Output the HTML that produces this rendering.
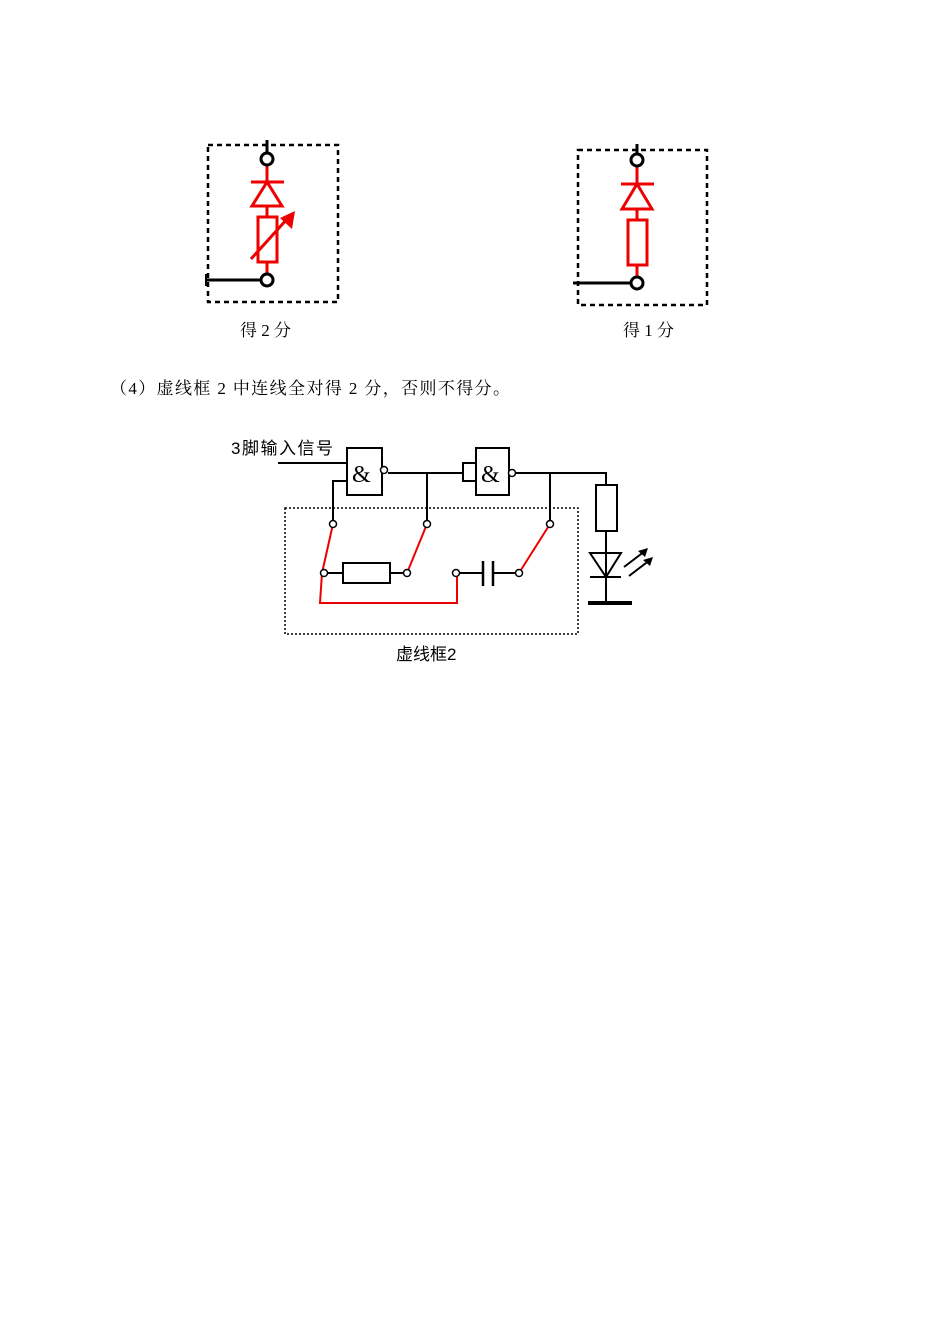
<!DOCTYPE html>
<html><head><meta charset="utf-8"><style>
html,body{margin:0;padding:0;background:#fff;}
svg{display:block;}
text{font-family:"Liberation Serif","Noto Serif CJK SC",serif;fill:#000;}
.s{font-family:"Liberation Sans","Noto Sans CJK SC",sans-serif;}
</style></head><body>
<svg width="950" height="1343" viewBox="0 0 950 1343" xmlns="http://www.w3.org/2000/svg">
<!-- left fig -->
<rect x="208" y="145" width="130" height="157" fill="none" stroke="#000" stroke-width="2.5" stroke-dasharray="5,4"/>
<line x1="267" y1="140" x2="267" y2="153" stroke="#000" stroke-width="3"/>
<line x1="267" y1="165" x2="267" y2="274" stroke="#e00" stroke-width="3"/>
<line x1="251" y1="182" x2="284" y2="182" stroke="#e00" stroke-width="3"/>
<polygon points="267,182 252,206 282,206" fill="#fff" stroke="#e00" stroke-width="3"/>
<rect x="258" y="217" width="19" height="45" fill="#fff" stroke="#e00" stroke-width="3"/>
<line x1="251" y1="259" x2="288" y2="218" stroke="#e00" stroke-width="3"/>
<polygon points="295,211 280,218 292,229" fill="#e00"/>
<circle cx="267" cy="159" r="6" fill="#fff" stroke="#000" stroke-width="3"/>
<line x1="205" y1="280" x2="261" y2="280" stroke="#000" stroke-width="3"/>
<line x1="206" y1="274" x2="206" y2="286" stroke="#000" stroke-width="2"/>
<circle cx="267" cy="280" r="6" fill="#fff" stroke="#000" stroke-width="3"/>
<!-- right fig -->
<rect x="578" y="150" width="129" height="155" fill="none" stroke="#000" stroke-width="2.5" stroke-dasharray="5,4"/>
<line x1="637" y1="144" x2="637" y2="154" stroke="#000" stroke-width="3"/>
<line x1="637" y1="166" x2="637" y2="277" stroke="#e00" stroke-width="3"/>
<line x1="621" y1="184" x2="654" y2="184" stroke="#e00" stroke-width="3"/>
<polygon points="637,184 622,209 652,209" fill="#fff" stroke="#e00" stroke-width="3"/>
<rect x="628" y="220" width="19" height="45" fill="#fff" stroke="#e00" stroke-width="3"/>
<circle cx="637" cy="160" r="6" fill="#fff" stroke="#000" stroke-width="3"/>
<line x1="573" y1="283" x2="631" y2="283" stroke="#000" stroke-width="3"/>
<circle cx="637" cy="283" r="6" fill="#fff" stroke="#000" stroke-width="3"/>
<text x="240" y="336" font-size="17">得 2 分</text>
<text x="623" y="336" font-size="17">得 1 分</text>
<text x="110" y="394" font-size="17" textLength="400" lengthAdjust="spacing">（4）虚线框 2 中连线全对得 2 分，否则不得分。</text>
<!-- circuit -->
<text class="s" x="231" y="454" font-size="17" textLength="102" lengthAdjust="spacing">3脚输入信号</text>
<g stroke="#000" stroke-width="2" fill="none">
<line x1="278" y1="463" x2="347" y2="463"/>
<polyline points="347,481 333,481 333,520"/>
<rect x="347" y="448" width="35" height="47" fill="#fff"/>
<line x1="388" y1="473" x2="463" y2="473"/>
<line x1="427" y1="473" x2="427" y2="520"/>
<rect x="463" y="463" width="13" height="18"/>
<rect x="476" y="448" width="33" height="47" fill="#fff"/>
<line x1="515" y1="473" x2="607" y2="473"/>
<line x1="550" y1="473" x2="550" y2="520"/>
<line x1="606" y1="473" x2="606" y2="485"/>
<rect x="596" y="485" width="21" height="46"/>
<line x1="606" y1="531" x2="606" y2="603"/>
<polygon points="590,553 621,553 606,577"/>
<line x1="590" y1="577" x2="621" y2="577"/>
<line x1="588" y1="603" x2="632" y2="603" stroke-width="4"/>
<line x1="624" y1="567" x2="645" y2="551"/>
<line x1="629" y1="576" x2="650" y2="560"/>
<line x1="328" y1="573" x2="343" y2="573"/>
<rect x="343" y="563" width="47" height="20"/>
<line x1="390" y1="573" x2="403" y2="573"/>
<line x1="460" y1="573" x2="483" y2="573"/>
<line x1="483" y1="561" x2="483" y2="586" stroke-width="2.5"/>
<line x1="493" y1="561" x2="493" y2="586" stroke-width="2.5"/>
<line x1="493" y1="573" x2="515" y2="573"/>
</g>
<polygon points="648,548 638,551 645,557" fill="#000"/>
<polygon points="653,557 643,560 650,566" fill="#000"/>
<circle cx="384" cy="470" r="3.5" fill="#fff" stroke="#000" stroke-width="1.5"/>
<circle cx="512" cy="473" r="3.5" fill="#fff" stroke="#000" stroke-width="1.5"/>
<text x="352" y="482" font-size="24">&amp;</text>
<text x="481" y="482" font-size="24">&amp;</text>
<rect x="285" y="508" width="293" height="126" fill="none" stroke="#000" stroke-width="1.5" stroke-dasharray="2,2"/>
<g stroke="#e00" stroke-width="2" fill="none">
<polyline points="333,524 322,573 320,603 457,603 457,573"/>
<line x1="427" y1="524" x2="407" y2="573"/>
<line x1="550" y1="524" x2="519" y2="573"/>
</g>
<g fill="#fff" stroke="#000" stroke-width="1.5">
<circle cx="333" cy="524" r="3.5"/><circle cx="427" cy="524" r="3.5"/><circle cx="550" cy="524" r="3.5"/>
<circle cx="324" cy="573" r="3.5"/><circle cx="407" cy="573" r="3.5"/><circle cx="456" cy="573" r="3.5"/><circle cx="519" cy="573" r="3.5"/>
</g>
<text class="s" x="396" y="660" font-size="17">虚线框2</text>
</svg>
</body></html>
